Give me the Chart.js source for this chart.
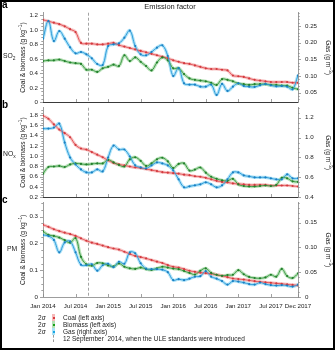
<!DOCTYPE html>
<html>
<head>
<meta charset="utf-8">
<title>Emission factor</title>
<script src="https://cdn.jsdelivr.net/npm/chart.js@4.4.1/dist/chart.umd.min.js"></script>
<style>
  html, body { margin: 0; padding: 0; background: #fff; }
  #fig { position: relative; width: 335px; height: 350px; overflow: hidden; background: #fff;
         font-family: "Liberation Sans", Arial, Helvetica, sans-serif; color: #222; }
  #fig canvas { position: absolute; left: 0; }
  .frame { position: absolute; left: 0; top: 0; width: 335px; height: 350px; box-sizing: border-box;
           border: 2px solid #000; pointer-events: none; }
  .title { position: absolute; left: 0; width: 340px; top: 3px; text-align: center; font-size: 7.5px; line-height: 8px; }
  .letter { position: absolute; left: 2px; font-weight: bold; font-size: 10px; line-height: 10px; color: #000; }
  .leg { position: absolute; left: 0; width: 335px; height: 7px; font-size: 6.5px; line-height: 7px; white-space: nowrap; }
  .leg .sig { position: absolute; left: 38px; top: 0; }
  .leg .band { position: absolute; left: 52px; top: 0; width: 3px; height: 7px; }
  .leg .mk { position: absolute; left: 52.5px; top: 2.5px; width: 2px; height: 2px; }
  .leg .txt { position: absolute; left: 63px; top: 0; }
  .leg .dash { position: absolute; left: 53px; top: 0; width: 0; height: 7px; border-left: 1px dashed #999; }
</style>
</head>
<body>
<div id="fig">
  <canvas id="cA" width="335" height="111"></canvas>
  <canvas id="cB" width="335" height="111"></canvas>
  <canvas id="cC" width="335" height="121"></canvas>

  <div class="title">Emission factor</div>
  <div class="letter" style="top:0px">a</div>
  <div class="letter" style="top:100px">b</div>
  <div class="letter" style="top:195px">c</div>

  <div class="leg" style="top:314px">
    <span class="sig">2<i>σ</i></span><span class="band" style="background:#f6b9b9"></span><span class="mk" style="background:#d93b3f"></span><span class="txt">Coal (left axis)</span>
  </div>
  <div class="leg" style="top:321px">
    <span class="sig">2<i>σ</i></span><span class="band" style="background:#b5e0b5"></span><span class="mk" style="background:#18a018"></span><span class="txt">Biomass (left axis)</span>
  </div>
  <div class="leg" style="top:328px">
    <span class="sig">2<i>σ</i></span><span class="band" style="background:#a9e2f6"></span><span class="mk" style="background:#19a6e6"></span><span class="txt">Gas (right axis)</span>
  </div>
  <div class="leg" style="top:335px">
    <span class="dash"></span><span class="txt">12 September&nbsp; 2014, when the ULE standards were introduced</span>
  </div>

  <div class="frame"></div>
</div>

<script>
// Monthly emission factors, Jan 2014 (index 0) to Dec 2017 (index 47).
// Coal and biomass in g kg^-1 (left axis), gas in g m^-3 (right axis).

const xTickPos = [0, 6, 12, 18, 24, 30, 36, 42, 47];
const xTickLabels = ['Jan 2014', 'Jul 2014', 'Jan 2015', 'Jul 2015', 'Jan 2016',
                     'Jul 2016', 'Jan 2017', 'Jul 2017', 'Dec 2017'];
const uleIndex = 8.37; // 12 September 2014 as a fractional month index

// SO2
const so2Coal = [1.14, 1.12, 1.10, 1.08, 1.05, 1.01, 0.97, 0.82, 0.81, 0.81, 0.80, 0.80,
                 0.81, 0.82, 0.79, 0.77, 0.75, 0.73, 0.71, 0.69, 0.67, 0.65, 0.63, 0.61,
                 0.58, 0.56, 0.54, 0.53, 0.51, 0.49, 0.47, 0.46, 0.46, 0.45, 0.44, 0.37,
                 0.36, 0.35, 0.33, 0.31, 0.30, 0.29, 0.28, 0.28, 0.28, 0.28, 0.27, 0.27];
const so2Biomass = [0.57, 0.58, 0.58, 0.59, 0.57, 0.55, 0.54, 0.53, 0.45, 0.45, 0.42, 0.47,
                    0.49, 0.52, 0.50, 0.65, 0.57, 0.62, 0.56, 0.50, 0.44, 0.55, 0.62, 0.58,
                    0.47, 0.47, 0.39, 0.33, 0.31, 0.30, 0.29, 0.27, 0.24, 0.32, 0.31, 0.29,
                    0.26, 0.25, 0.24, 0.25, 0.25, 0.25, 0.24, 0.24, 0.23, 0.23, 0.20, 0.18];
const so2Gas = [0.212, 0.265, 0.205, 0.235, 0.212, 0.186, 0.168, 0.172, 0.165, 0.153, 0.136, 0.133,
                0.190, 0.195, 0.198, 0.215, 0.236, 0.190, 0.165, 0.162, 0.172, 0.185, 0.192, 0.160,
                0.100, 0.124, 0.078, 0.074, 0.074, 0.068, 0.068, 0.074, 0.043, 0.076, 0.055, 0.068,
                0.078, 0.070, 0.068, 0.067, 0.072, 0.076, 0.072, 0.069, 0.070, 0.068, 0.060, 0.102];

// NOx
const noxCoal = [1.79, 1.73, 1.62, 1.52, 1.45, 1.37, 1.22, 1.15, 1.13, 1.08, 1.03, 0.98,
                 0.92, 0.87, 0.84, 0.82, 0.80, 0.78, 0.77, 0.75, 0.73, 0.71, 0.69, 0.68,
                 0.67, 0.66, 0.64, 0.63, 0.61, 0.60, 0.58, 0.55, 0.52, 0.50, 0.49, 0.47,
                 0.46, 0.45, 0.44, 0.44, 0.44, 0.44, 0.43, 0.43, 0.43, 0.43, 0.42, 0.41];
const noxBiomass = [0.66, 0.79, 0.80, 0.81, 0.79, 0.84, 0.86, 0.85, 0.84, 0.85, 0.86, 0.86,
                    0.93, 0.88, 0.83, 0.80, 0.94, 0.98, 0.91, 0.81, 0.86, 0.94, 0.97, 0.90,
                    0.77, 0.85, 0.86, 0.72, 0.74, 0.78, 0.68, 0.60, 0.56, 0.53, 0.52, 0.56,
                    0.45, 0.42, 0.41, 0.41, 0.42, 0.43, 0.42, 0.44, 0.58, 0.57, 0.51, 0.50];
const noxGas = [1.09, 1.09, 1.10, 1.14, 0.95, 0.80, 0.73, 0.68, 0.65, 0.65, 0.68, 0.66,
                0.80, 0.92, 0.88, 0.88, 0.81, 0.72, 0.70, 0.69, 0.72, 0.75, 0.74, 0.72,
                0.67, 0.58, 0.50, 0.51, 0.52, 0.53, 0.55, 0.53, 0.50, 0.52, 0.58, 0.65,
                0.65, 0.62, 0.61, 0.60, 0.60, 0.60, 0.59, 0.58, 0.58, 0.63, 0.59, 0.59];

// PM
const pmCoal = [0.270, 0.262, 0.253, 0.246, 0.240, 0.235, 0.228, 0.219, 0.210, 0.203, 0.198, 0.192,
                0.186, 0.181, 0.177, 0.169, 0.161, 0.153, 0.149, 0.144, 0.138, 0.132, 0.127, 0.119,
                0.113, 0.110, 0.104, 0.098, 0.094, 0.091, 0.089, 0.087, 0.083, 0.079, 0.074, 0.069,
                0.067, 0.065, 0.062, 0.059, 0.057, 0.055, 0.053, 0.051, 0.049, 0.047, 0.045, 0.043];
const pmBiomass = [0.245, 0.232, 0.228, 0.222, 0.212, 0.203, 0.220, 0.150, 0.122, 0.117, 0.127, 0.126,
                   0.118, 0.114, 0.125, 0.113, 0.107, 0.105, 0.110, 0.104, 0.101, 0.107, 0.113, 0.110,
                   0.106, 0.104, 0.097, 0.090, 0.084, 0.098, 0.107, 0.090, 0.083, 0.079, 0.082, 0.083,
                   0.100, 0.085, 0.075, 0.071, 0.070, 0.073, 0.083, 0.076, 0.105, 0.078, 0.071, 0.088];
const pmGas = [0.125, 0.123, 0.115, 0.090, 0.110, 0.112, 0.090, 0.065, 0.064, 0.066, 0.053, 0.064,
               0.067, 0.060, 0.071, 0.067, 0.090, 0.088, 0.068, 0.057, 0.056, 0.056, 0.055, 0.050,
               0.034, 0.036, 0.034, 0.037, 0.041, 0.042, 0.052, 0.041, 0.037, 0.032, 0.025, 0.032,
               0.031, 0.029, 0.026, 0.025, 0.029, 0.026, 0.024, 0.023, 0.024, 0.023, 0.021, 0.025];

// Axis tick values and their labels
const so2LeftTicks = [0, 0.2, 0.4, 0.6, 0.8, 1.0, 1.2];
const so2LeftLabels = ['0', '0.2', '0.4', '0.6', '0.8', '1.0', '1.2'];
const so2RightTicks = [0.05, 0.10, 0.15, 0.20, 0.25];
const so2RightLabels = ['0.05', '0.10', '0.15', '0.20', '0.25'];
const noxLeftTicks = [0.2, 0.4, 0.6, 0.8, 1.0, 1.2, 1.4, 1.6, 1.8];
const noxLeftLabels = ['0.2', '0.4', '0.6', '0.8', '1.0', '1.2', '1.4', '1.6', '1.8'];
const noxRightTicks = [0.4, 0.6, 0.8, 1.0, 1.2];
const noxRightLabels = ['0.4', '0.6', '0.8', '1.0', '1.2'];
const pmLeftTicks = [0, 0.1, 0.2, 0.3];
const pmLeftLabels = ['0', '0.1', '0.2', '0.3'];
const pmRightTicks = [0, 0.05, 0.10, 0.15];
const pmRightLabels = ['0', '0.05', '0.10', '0.15'];

const FONT = '"Liberation Sans", Arial, Helvetica, sans-serif';
const TEXT = '#222';
const AXIS = '#9d9d9d';

const STYLE = {
  coal:    { line: '#e4575b', point: '#d23a3f', band: 'rgba(242,160,160,0.6)' },
  biomass: { line: '#3e9a47', point: '#23802c', band: 'rgba(140,206,140,0.6)' },
  gas:     { line: '#2f9bd9', point: '#1b7fc2', band: 'rgba(120,206,242,0.6)' }
};

const panels = [
  { canvas: 'cA', top: 12, xLabels: false, bottomLine: '#3a3a3a',
    species: [{ t: 'SO' }, { t: '2', sub: true }], speciesX: 3, speciesY: 56,
    coal: so2Coal, biomass: so2Biomass, gas: so2Gas,
    left:  { min: 0, max: 1.238, ticks: so2LeftTicks, labels: so2LeftLabels, minor: 0.05 },
    right: { min: 0.021, max: 0.29, ticks: so2RightTicks, labels: so2RightLabels, minor: 0.01 } },
  { canvas: 'cB', top: 107, xLabels: false, bottomLine: '#3a3a3a',
    species: [{ t: 'NO' }, { t: 'x', sub: true }], speciesX: 3, speciesY: 154,
    coal: noxCoal, biomass: noxBiomass, gas: noxGas,
    left:  { min: 0.2, max: 1.945, ticks: noxLeftTicks, labels: noxLeftLabels, minor: 0.05 },
    right: { min: 0.4, max: 1.30, ticks: noxRightTicks, labels: noxRightLabels, minor: 0.05 } },
  { canvas: 'cC', top: 202, xLabels: true, bottomLine: AXIS,
    species: [{ t: 'PM' }], speciesX: 7, speciesY: 249,
    coal: pmCoal, biomass: pmBiomass, gas: pmGas,
    left:  { min: 0, max: 0.352, ticks: pmLeftTicks, labels: pmLeftLabels, minor: 0.025 },
    right: { min: 0, max: 0.19, ticks: pmRightTicks, labels: pmRightLabels, minor: 0.01 } }
];

const PLOT_H = 95;
const PAD_TOP = 10;

// Text with optional sub/superscript runs, centred (or left-aligned) on (x, y)
function richText(ctx, parts, x, y, size, align) {
  const runs = parts.map(p => {
    const fs = (p.sub || p.sup) ? size * 0.72 : size;
    ctx.font = fs + 'px ' + FONT;
    return { p, fs, w: ctx.measureText(p.t).width };
  });
  const total = runs.reduce((s, r) => s + r.w, 0);
  let cx = align === 'left' ? x : x - total / 2;
  ctx.textAlign = 'left';
  ctx.textBaseline = 'middle';
  runs.forEach(r => {
    ctx.font = r.fs + 'px ' + FONT;
    const dy = r.p.sup ? -size * 0.38 : (r.p.sub ? size * 0.35 : 0);
    ctx.fillText(r.p.t, cx, y + dy);
    cx += r.w;
  });
}

function drawAxisTicks(ctx, scale, cfg, xEdge, dir) {
  const kMin = Math.ceil(scale.min / cfg.minor - 1e-6);
  const kMax = Math.floor(scale.max / cfg.minor + 1e-6);
  for (let k = kMin; k <= kMax; k++) {
    const v = k * cfg.minor;
    const major = cfg.ticks.some(m => Math.abs(m - v) < cfg.minor / 10);
    const y = Math.round(scale.getPixelForValue(v)) + 0.5;
    ctx.beginPath();
    ctx.moveTo(xEdge, y);
    ctx.lineTo(xEdge + dir * (major ? 3 : 1.7), y);
    ctx.stroke();
  }
}

const panelDecor = {
  id: 'panelDecor',
  beforeDatasetsDraw(chart, args, opts) {
    const { ctx, chartArea: a, scales } = chart;
    const px = Math.round(scales.x.getPixelForValue(uleIndex)) + 0.5;
    ctx.save();
    ctx.strokeStyle = '#8c8c8c';
    ctx.lineWidth = 0.8;
    ctx.setLineDash([3, 2]);
    ctx.beginPath();
    ctx.moveTo(px, a.top);
    ctx.lineTo(px, a.bottom);
    ctx.stroke();
    ctx.restore();
  },
  afterDraw(chart, args, opts) {
    const p = panels[opts.index];
    const { ctx, chartArea: a, scales } = chart;
    ctx.save();

    // y-axis ticks (outward), major and minor
    ctx.strokeStyle = '#8a8a8a';
    ctx.lineWidth = 0.8;
    drawAxisTicks(ctx, scales.yl, p.left, a.left, -1);
    drawAxisTicks(ctx, scales.yr, p.right, a.right, 1);

    // x-axis ticks (inward from the bottom edge)
    const yb = Math.round(a.bottom);
    xTickPos.forEach(v => {
      const x = Math.round(scales.x.getPixelForValue(v)) + 0.5;
      ctx.beginPath();
      ctx.moveTo(x, yb);
      ctx.lineTo(x, yb - 3);
      ctx.stroke();
    });

    // bottom edge of the panel
    ctx.strokeStyle = p.bottomLine;
    ctx.lineWidth = 1;
    ctx.beginPath();
    ctx.moveTo(a.left, yb + 0.5);
    ctx.lineTo(a.right, yb + 0.5);
    ctx.stroke();

    // axis titles
    ctx.fillStyle = TEXT;
    const cy = (a.top + a.bottom) / 2;
    ctx.save();
    ctx.translate(23.5, cy);
    ctx.rotate(-Math.PI / 2);
    richText(ctx, [{ t: 'Coal & biomass (g kg' }, { t: '\u22121', sup: true }, { t: ')' }], 0, 0, 6.6);
    ctx.restore();
    ctx.save();
    ctx.translate(327.5, cy);
    ctx.rotate(Math.PI / 2);
    richText(ctx, [{ t: 'Gas (g m' }, { t: '\u22123', sup: true }, { t: ')' }], 0, 0, 6.6);
    ctx.restore();

    // pollutant name
    const canvasTop = p.top - PAD_TOP;
    richText(ctx, p.species, p.speciesX, p.speciesY - canvasTop, 6.8, 'left');
    ctx.restore();
  }
};

function seriesDatasets(values, axis, st, order) {
  const pts = values.map((v, i) => ({ x: i, y: v }));
  return [
    { data: pts, yAxisID: axis, borderColor: st.band, borderWidth: 3.2, pointRadius: 0,
      tension: 0.4, fill: false, order: 10 },
    { data: pts, yAxisID: axis, borderColor: st.line, borderWidth: 1, pointRadius: 1.1,
      pointBackgroundColor: st.point, pointBorderWidth: 0, tension: 0.4, fill: false, order: order }
  ];
}

function yScale(cfg, position) {
  return {
    type: 'linear', position: position, min: cfg.min, max: cfg.max,
    afterBuildTicks: s => { s.ticks = cfg.ticks.map(v => ({ value: v })); },
    afterFit: s => { s.width = position === 'left' ? 43 : 37; },
    grid: { display: false, drawTicks: false },
    border: { display: true, color: AXIS, width: 1 },
    ticks: {
      padding: position === 'left' ? 5 : 7,
      color: TEXT, font: { family: FONT, size: 6.2 },
      callback: (v, i) => cfg.labels[i]
    }
  };
}

panels.forEach((p, idx) => {
  const bottomPad = p.xLabels ? 0 : 6;
  const xHeight = p.xLabels ? 16 : 0;
  const el = document.getElementById(p.canvas);
  el.height = PAD_TOP + PLOT_H + bottomPad + xHeight;
  el.style.top = (p.top - PAD_TOP) + 'px';

  const datasets = [
    ...seriesDatasets(p.coal, 'yl', STYLE.coal, 3),
    ...seriesDatasets(p.biomass, 'yl', STYLE.biomass, 2),
    ...seriesDatasets(p.gas, 'yr', STYLE.gas, 1)
  ];

  new Chart(el, {
    type: 'line',
    data: { datasets },
    plugins: [panelDecor],
    options: {
      responsive: false,
      animation: false,
      devicePixelRatio: 1,
      events: [],
      layout: { autoPadding: false, padding: { top: PAD_TOP, bottom: bottomPad, left: 0, right: 0 } },
      plugins: { legend: { display: false }, tooltip: { enabled: false }, panelDecor: { index: idx } },
      scales: {
        x: {
          type: 'linear', min: 0, max: 47,
          afterBuildTicks: s => { s.ticks = xTickPos.map(v => ({ value: v })); },
          afterFit: s => { s.height = xHeight; },
          grid: { display: false, drawTicks: false },
          border: { display: false },
          ticks: {
            display: p.xLabels, autoSkip: false, maxRotation: 0, padding: 6,
            color: TEXT, font: { family: FONT, size: 6.2 },
            callback: (v, i) => xTickLabels[i]
          }
        },
        yl: yScale(p.left, 'left'),
        yr: yScale(p.right, 'right')
      }
    }
  });
});
</script>
</body>
</html>
